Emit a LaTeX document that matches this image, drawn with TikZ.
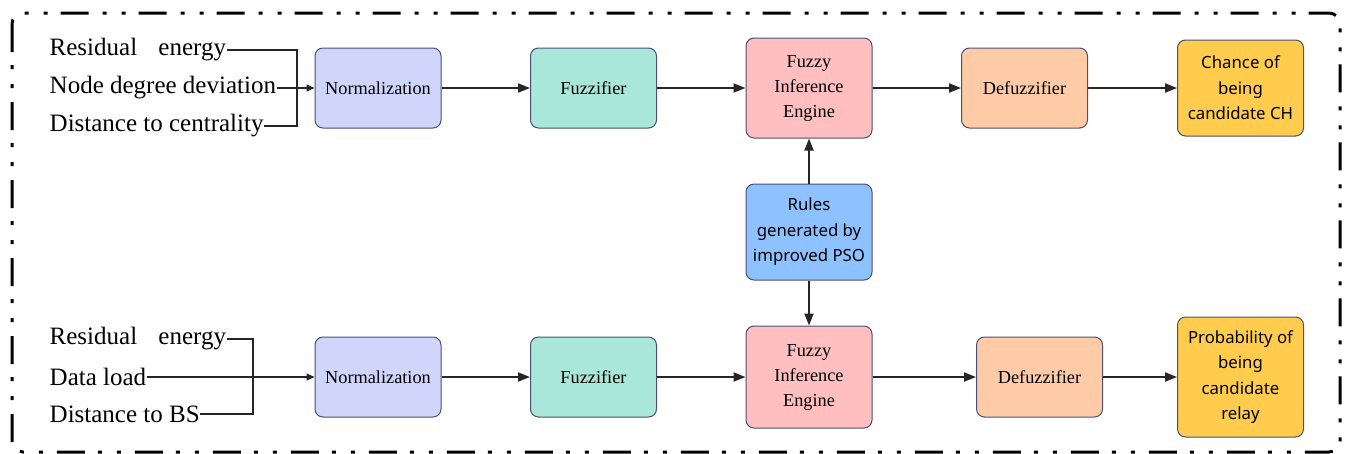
\documentclass[tikz,border=0pt]{standalone}
\usepackage{fontspec}
\setmainfont{Liberation Serif}
\newfontfamily\boxsans{Noto Sans}
\usetikzlibrary{arrows.meta}
\definecolor{boxline}{HTML}{4A4F78}
\definecolor{normc}{HTML}{D0D5FB}
\definecolor{fuzzc}{HTML}{A9E8D8}
\definecolor{fiec}{HTML}{FFBEC0}
\definecolor{defc}{HTML}{FFCBA6}
\definecolor{outc}{HTML}{FFCC4E}
\definecolor{rulec}{HTML}{8EC1FF}
\tikzset{
  box/.style={draw=boxline, line width=1pt, rounded corners=8pt, minimum width=126pt, minimum height=80pt, align=center, inner sep=0pt},
  sertxt/.style={font=\fontsize{18.3}{25}\selectfont},
  sanstxt/.style={font=\boxsans\fontsize{16.8}{25.5}\selectfont},
  intxt/.style={anchor=west, inner sep=0.5pt, font=\fontsize{25}{28}\selectfont},
  arr/.style={-{Triangle[length=12pt,width=9pt]}, line width=1.8pt, black!85},
  inl/.style={line width=1.1pt, black!85},
  inarr/.style={-{Triangle[length=8pt,width=7pt]}, line width=1.1pt, black!85},
  frame/.style={line width=3pt, rounded corners=11pt, dash pattern=on 28pt off 13pt on 4pt off 15pt on 4pt off 14pt}
}
\begin{document}
\begin{tikzpicture}[x=1pt,y=-1pt]
\useasboundingbox (0,0) rectangle (1347,453);
\draw[frame] (12,13) rectangle (1340,452);

% top row
\node[box, fill=normc, sertxt] (norm1) at (378,88) {Normalization};
\node[box, fill=fuzzc, sertxt] (fuzz1) at (593.5,88) {Fuzzifier};
\node[box, fill=fiec, sertxt, minimum height=100pt] (fie1) at (809,88) {Fuzzy\\Inference\\Engine};
\node[box, fill=defc, sertxt] (def1) at (1024.5,88) {Defuzzifier};
\node[box, fill=outc, sanstxt, minimum height=96pt] (out1) at (1240.5,88) {Chance of\\being\\candidate CH};

% rules
\node[box, fill=rulec, sanstxt, minimum height=96pt] (rules) at (809,232) {Rules\\generated by\\improved PSO};

% bottom row
\node[box, fill=normc, sertxt] (norm2) at (378,377) {Normalization};
\node[box, fill=fuzzc, sertxt] (fuzz2) at (593.5,377) {Fuzzifier};
\node[box, fill=fiec, sertxt, minimum height=102pt] (fie2) at (809,377) {Fuzzy\\Inference\\Engine};
\node[box, fill=defc, sertxt] (def2) at (1039.5,377) {Defuzzifier};
\node[box, fill=outc, sanstxt, minimum height=120pt] (out2) at (1240.5,377) {Probability of\\being\\candidate\\relay};

% inputs top
\node[intxt] (re1) at (49,50) {Residual\hspace{0.85em}energy};
\node[intxt] (nd1) at (49,88) {Node degree deviation};
\node[intxt] (dc1) at (49,126) {Distance to centrality};
\coordinate (j1) at (297,88);
\draw[inl] (re1.east) -| (j1) |- (dc1.east);
\draw[inarr] (nd1.east) -- (norm1.west);

% inputs bottom
\node[intxt] (re2) at (49,339) {Residual\hspace{0.85em}energy};
\node[intxt] (dl2) at (49,377) {Data load};
\node[intxt] (db2) at (49,414) {Distance to BS};
\coordinate (j2) at (253,377);
\draw[inl] (re2.east) -| (j2) |- (db2.east);
\draw[inarr] (dl2.east) -- (norm2.west);

% flow arrows
\draw[arr] (norm1) -- (fuzz1);
\draw[arr] (fuzz1) -- (fie1);
\draw[arr] (fie1) -- (def1);
\draw[arr] (def1) -- (out1);
\draw[arr] (norm2) -- (fuzz2);
\draw[arr] (fuzz2) -- (fie2);
\draw[arr] (fie2) -- (def2);
\draw[arr] (def2) -- (out2);
\draw[arr] (rules) -- (fie1);
\draw[arr] (rules) -- (fie2);
\end{tikzpicture}
\end{document}
